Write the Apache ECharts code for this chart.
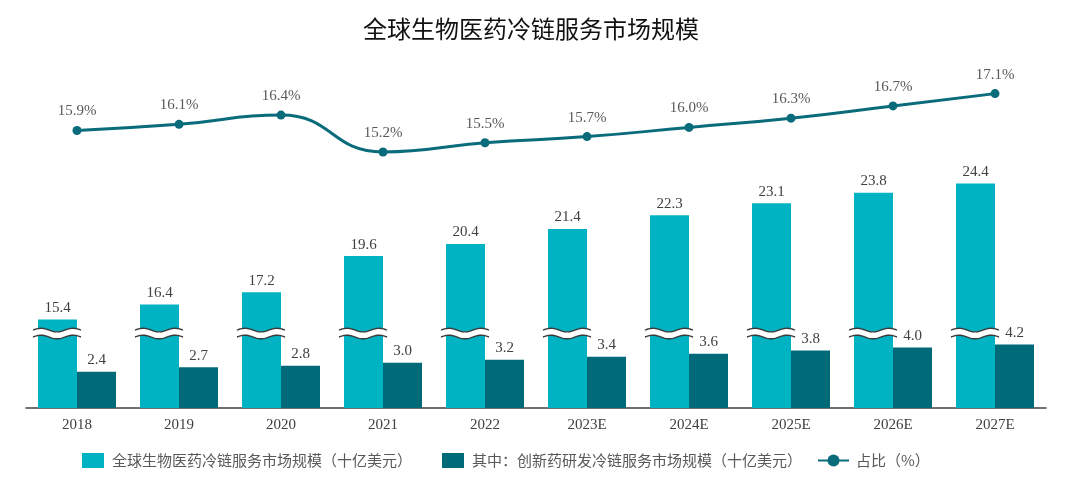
<!DOCTYPE html>
<html>
<head>
<meta charset="utf-8">
<title>全球生物医药冷链服务市场规模</title>
<script src="https://cdn.jsdelivr.net/npm/echarts@6.0.0/dist/echarts.min.js"></script>
<style>
  html, body { margin: 0; padding: 0; background: #fff; }
  #chart { width: 1080px; height: 482px; }
</style>
</head>
<body>
<div id="chart"></div>
<script>
const years = ['2018', '2019', '2020', '2021', '2022', '2023E', '2024E', '2025E', '2026E', '2027E'];
const globalMarket = [15.4, 16.4, 17.2, 19.6, 20.4, 21.4, 22.3, 23.1, 23.8, 24.4];
const innovativeMarket = [2.4, 2.7, 2.8, 3.0, 3.2, 3.4, 3.6, 3.8, 4.0, 4.2];
const shareRatio = [15.9, 16.1, 16.4, 15.2, 15.5, 15.7, 16.0, 16.3, 16.7, 17.1];

const seriesNames = [
  '全球生物医药冷链服务市场规模（十亿美元）',
  '其中：创新药研发冷链服务市场规模（十亿美元）',
  '占比（%）'
];

// value axis is broken between these two values
const breakStart = 4.7;
const breakEnd = 14.7;

const CYAN = '#00b3c3';
const TEAL = '#006a79';
const LINE = '#0a6b7b';
const BAR_W = 39;
const serif = "'Liberation Serif', 'Times New Roman', serif";
const cjk = "'Noto Sans CJK SC', sans-serif";

const chart = echarts.init(document.getElementById('chart'));

// wavy "break" marks drawn across each cyan bar
function renderBreakMark(params, api) {
  const lo = api.coord([api.value(0), api.value(1)]);
  const hi = api.coord([api.value(0), api.value(2)]);
  const cx = lo[0] - BAR_W / 2;
  const x0 = cx - BAR_W / 2 - 5;
  const x1 = cx + BAR_W / 2 + 4;
  const n = 40;
  const amp = 1.8;
  const wave = (yBase) => {
    const pts = [];
    for (let i = 0; i <= n; i++) {
      const t = i / n;
      pts.push([x0 + (x1 - x0) * t, yBase - amp * Math.sin(Math.PI * 2 * 1.5 * t)]);
    }
    return pts;
  };
  const top = wave(hi[1]);
  const bottom = wave(lo[1]);
  return {
    type: 'group',
    children: [
      {
        type: 'polygon',
        shape: { points: top.concat(bottom.slice().reverse()) },
        style: { fill: '#fff' }
      },
      {
        type: 'polyline',
        shape: { points: top },
        style: { stroke: '#3a3a3a', lineWidth: 1.4, fill: null }
      },
      {
        type: 'polyline',
        shape: { points: bottom },
        style: { stroke: '#3a3a3a', lineWidth: 1.4, fill: null }
      }
    ]
  };
}

const oneDecimal = (p) => Number(p.value).toFixed(1);

const option = {
  backgroundColor: '#fff',
  animation: false,
  title: {
    text: '全球生物医药冷链服务市场规模',
    left: 358,
    top: 12,
    textStyle: {
      fontFamily: cjk,
      fontSize: 24,
      fontWeight: 'normal',
      color: '#111'
    }
  },
  legend: [
    {
      data: [seriesNames[0], seriesNames[1]],
      left: 77,
      bottom: 9,
      itemWidth: 22,
      itemHeight: 15,
      itemGap: 30,
      icon: 'rect',
      textStyle: {
        fontFamily: cjk,
        fontSize: 15,
        color: '#595959',
        padding: [0, 0, 0, 3]
      }
    },
    {
      data: [seriesNames[2]],
      left: 812,
      bottom: 9,
      itemWidth: 31,
      itemHeight: 15,
      textStyle: {
        fontFamily: cjk,
        fontSize: 15,
        color: '#595959',
        padding: [0, 0, 0, 2]
      }
    }
  ],
  grid: {
    left: 26,
    right: 34,
    top: 62,
    bottom: 74
  },
  xAxis: {
    type: 'category',
    data: years,
    axisLine: { lineStyle: { color: '#404040', width: 1.5 } },
    axisTick: { show: false },
    axisLabel: {
      margin: 10,
      fontFamily: serif,
      fontSize: 15,
      color: '#404040'
    }
  },
  yAxis: [
    {
      type: 'value',
      min: 0,
      max: 32.45,
      breaks: [{ start: breakStart, end: breakEnd, gap: '2%' }],
      breakArea: { show: false },
      axisLine: { show: false },
      axisTick: { show: false },
      axisLabel: { show: false },
      splitLine: { show: false }
    },
    {
      type: 'value',
      min: 6.86,
      max: 18.13,
      axisLine: { show: false },
      axisTick: { show: false },
      axisLabel: { show: false },
      splitLine: { show: false }
    }
  ],
  series: [
    {
      name: seriesNames[0],
      type: 'bar',
      data: globalMarket,
      barWidth: BAR_W,
      barGap: '0%',
      itemStyle: { color: CYAN },
      label: {
        show: true,
        position: 'top',
        distance: 4,
        formatter: oneDecimal,
        fontFamily: serif,
        fontSize: 15,
        color: '#404040'
      }
    },
    {
      name: seriesNames[1],
      type: 'bar',
      data: innovativeMarket,
      barWidth: BAR_W,
      barGap: '0%',
      itemStyle: { color: TEAL },
      label: {
        show: true,
        position: 'top',
        distance: 4,
        formatter: oneDecimal,
        fontFamily: serif,
        fontSize: 15,
        color: '#404040'
      }
    },
    {
      name: 'break',
      type: 'custom',
      z: 5,
      silent: true,
      renderItem: renderBreakMark,
      data: years.map((y, i) => [i, breakStart, breakEnd])
    },
    {
      name: seriesNames[2],
      type: 'line',
      yAxisIndex: 1,
      data: shareRatio,
      smooth: 0.5,
      symbol: 'circle',
      symbolSize: 9,
      z: 6,
      lineStyle: { color: LINE, width: 3 },
      itemStyle: { color: LINE },
      label: {
        show: true,
        position: 'top',
        distance: 7,
        formatter: (p) => Number(p.value).toFixed(1) + '%',
        fontFamily: serif,
        fontSize: 15,
        color: '#595959'
      }
    }
  ]
};

chart.setOption(option);
window.addEventListener('resize', () => chart.resize());
</script>
</body>
</html>
